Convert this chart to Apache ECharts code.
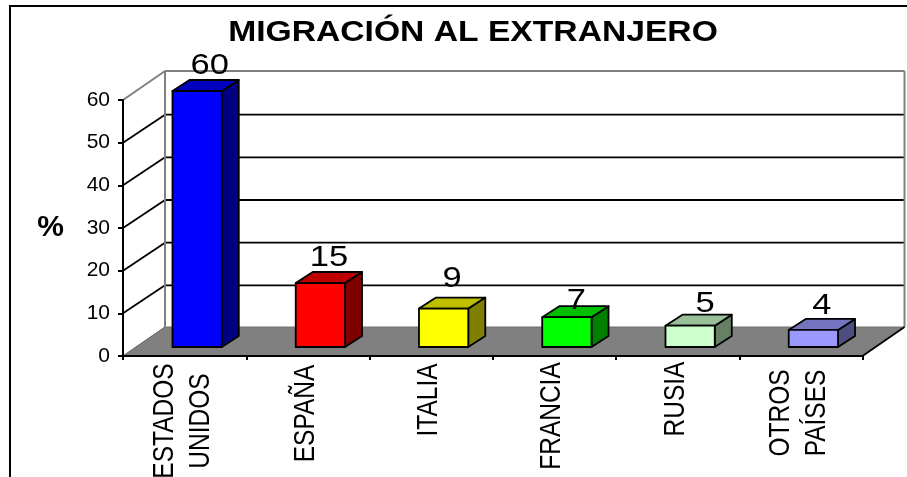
<!DOCTYPE html>
<html>
<head>
<meta charset="utf-8">
<style>html,body{margin:0;padding:0;background:#fff}#c{width:907px;height:477px}</style>
<script src="https://cdn.jsdelivr.net/npm/echarts@6/dist/echarts.min.js"></script>
</head>
<body>
<div id="c"></div>
<script>
const titleText = 'MIGRACIÓN AL EXTRANJERO';
const categories = ['ESTADOS\nUNIDOS', 'ESPAÑA', 'ITALIA', 'FRANCIA', 'RUSIA', 'OTROS\nPAÍSES'];
const values = [60, 15, 9, 7, 5, 4];
const yTicks = [0, 10, 20, 30, 40, 50, 60];
const barColors = ['#0000ff', '#ff0000', '#ffff00', '#00ff00', '#ccffcc', '#9999ff'];

// drawing constants (not data)
const FONT = '"Liberation Sans", Arial, sans-serif';
const WALL_DX = 42, WALL_DY = -29, GRID_DY = -28;
const BAR_DX = 17, BAR_DY = -11;
const BAR_RATIO = 0.4;
const STRETCH = 1.15;
const labelLift = [14, 14, 19, 5, 11, 13];
const labelShift = [4, 0, 0, 1, 6.5, 0];
const catLabelDrop = [65, 57.5, 44, 60, 43, 57];

function shade(hex, k) {
  const n = parseInt(hex.slice(1), 16);
  const f = s => Math.round(((n >> s) & 255) * k);
  return 'rgb(' + f(16) + ',' + f(8) + ',' + f(0) + ')';
}

function renderWalls(params, api) {
  const band = api.size([1, 0])[0];
  const a = api.coord([0, 0]);
  const t = api.coord([0, 60]);
  const x0 = a[0] - band / 2;
  const x1 = api.coord([categories.length - 1, 0])[0] + band / 2;
  const y0 = a[1], yt = t[1];
  const bx0 = x0 + WALL_DX, bx1 = x1 + WALL_DX;
  const gray = { stroke: '#808080', lineWidth: 2, fill: null };
  return { type: 'group', silent: true, children: [
    { type: 'polygon', shape: { points: [[x0, y0], [bx0, y0 + WALL_DY], [bx1, y0 + WALL_DY], [x1, y0]] },
      style: { fill: '#808080', stroke: '#6e6e6e', lineWidth: 1 } },
    { type: 'line', shape: { x1: bx0, y1: y0 + WALL_DY, x2: bx0, y2: yt + WALL_DY }, style: gray },
    { type: 'line', shape: { x1: bx1, y1: y0 + WALL_DY, x2: bx1, y2: yt + WALL_DY }, style: gray },
    { type: 'line', shape: { x1: bx0, y1: yt + WALL_DY, x2: bx1, y2: yt + WALL_DY }, style: gray },
    { type: 'line', shape: { x1: x0, y1: yt, x2: bx0, y2: yt + WALL_DY }, style: gray },
    { type: 'line', shape: { x1: x0, y1: y0, x2: bx0, y2: y0 + WALL_DY }, style: { stroke: '#6e6e6e', lineWidth: 1 } },
    { type: 'line', shape: { x1: x1, y1: y0, x2: bx1, y2: y0 + WALL_DY }, style: { stroke: '#000', lineWidth: 1.8 } },
    { type: 'line', shape: { x1: x0, y1: y0, x2: x0, y2: yt }, style: { stroke: '#000', lineWidth: 2 } }
  ] };
}

function renderGrid(params, api) {
  const v = api.value(1);
  const band = api.size([1, 0])[0];
  const p = api.coord([0, v]);
  const x0 = p[0] - band / 2;
  const x1 = api.coord([categories.length - 1, v])[0] + band / 2;
  const s = { stroke: '#000', lineWidth: 1.8 };
  return { type: 'group', silent: true, children: [
    { type: 'line', shape: { x1: x0, y1: p[1], x2: x0 + WALL_DX, y2: p[1] + GRID_DY }, style: s },
    { type: 'line', shape: { x1: x0 + WALL_DX, y1: p[1] + GRID_DY, x2: x1 + WALL_DX, y2: p[1] + GRID_DY }, style: s }
  ] };
}

function renderBar(params, api) {
  const i = params.dataIndex;
  const base = api.coord([i, 0]);
  const top = api.coord([i, api.value(1)]);
  const band = api.size([1, 0])[0];
  const w = band * BAR_RATIO;
  const ox = (WALL_DX - BAR_DX) / 2, oy = (WALL_DY - BAR_DY) / 2;
  const l = base[0] - w / 2 + ox, r = l + w;
  const b = base[1] + oy, t = top[1] + oy;
  const c = barColors[i];
  const line = { stroke: '#000', lineWidth: 1.8, lineJoin: 'round' };
  return { type: 'group', children: [
    { type: 'polygon', shape: { points: [[r, t], [r + BAR_DX, t + BAR_DY], [r + BAR_DX, b + BAR_DY], [r, b]] },
      style: Object.assign({ fill: shade(c, 0.5) }, line) },
    { type: 'polygon', shape: { points: [[l, t], [l + BAR_DX, t + BAR_DY], [r + BAR_DX, t + BAR_DY], [r, t]] },
      style: Object.assign({ fill: shade(c, 0.75) }, line) },
    { type: 'rect', shape: { x: l, y: t, width: w, height: b - t },
      style: Object.assign({ fill: c }, line) },
    { type: 'text', x: (l + r) / 2 + BAR_DX / 2 + labelShift[i], y: t + BAR_DY - labelLift[i], scaleX: STRETCH, z2: 20,
      style: { text: String(api.value(1)), font: '30px ' + FONT, fill: '#000', align: 'center', verticalAlign: 'middle' } },
    { type: 'text', x: base[0] - 2, y: base[1] + catLabelDrop[i], rotation: Math.PI / 2, scaleY: 1.18,
      style: { text: categories[i], font: '24.5px ' + FONT, fill: '#000', align: 'center', verticalAlign: 'middle', lineHeight: 30.5 } }
  ] };
}

const chart = echarts.init(document.getElementById('c'), null, { renderer: 'canvas' });
chart.setOption({
  animation: false,
  backgroundColor: '#fff',
  graphic: [
    { type: 'polyline', silent: true, shape: { points: [[10, 477], [10, 6], [907, 6]] },
      style: { stroke: '#000', lineWidth: 2, fill: null } },
    { type: 'text', x: 473, y: 33, scaleX: 1.16, silent: true,
      style: { text: titleText, font: 'bold 29px ' + FONT, fill: '#000', align: 'center', verticalAlign: 'middle' } }
  ],
  grid: { left: 123, top: 100, width: 739.5, height: 256, containLabel: false },
  xAxis: {
    type: 'category', data: categories, z: 5,
    axisLine: { lineStyle: { color: '#000', width: 2 } },
    axisTick: { show: true, length: 4, alignWithLabel: false, lineStyle: { color: '#000', width: 2 } },
    axisLabel: { show: false },
    splitLine: { show: false }
  },
  yAxis: {
    type: 'value', min: 0, max: 60, interval: 10, z: 5,
    name: '%', nameLocation: 'middle', nameGap: 59, nameRotate: 0,
    nameTextStyle: { fontFamily: FONT, fontWeight: 'bold', fontSize: 30, color: '#000' },
    axisLine: { show: true, onZero: false, lineStyle: { color: '#000', width: 2 } },
    axisTick: { show: true, length: 5, lineStyle: { color: '#000', width: 2 } },
    axisLabel: { fontFamily: FONT, fontSize: 21, color: '#000', margin: 13 },
    splitLine: { show: false }
  },
  series: [
    { type: 'custom', name: 'grid', z: 1, renderItem: renderGrid, silent: true,
      data: yTicks.filter(v => v > 0 && v < 60).map(v => [0, v]), encode: { x: 0, y: 1 } },
    { type: 'custom', name: 'walls', z: 2, renderItem: renderWalls, silent: true,
      data: [[0, 0]], encode: { x: 0, y: 1 } },
    { type: 'custom', name: 'bars', z: 3, renderItem: renderBar,
      data: values.map((v, i) => [i, v]), encode: { x: 0, y: 1 } }
  ]
});
</script>
</body>
</html>
